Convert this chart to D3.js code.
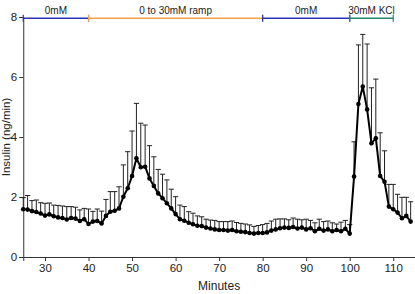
<!DOCTYPE html>
<html>
<head>
<meta charset="utf-8">
<script src="https://cdn.jsdelivr.net/npm/d3@7"></script>
<style>
	body { margin: 0; background: #fff; }
	svg text { font-family: "Liberation Sans", Arial, sans-serif; fill: #222; }
</style>
</head>
<body>
<div id="chart-area"></div>
<script>

// minutes sampled
let minutes = [25,26,27,28,29,30,31,32,33,34,35,36,37,38,39,40,41,42,43,44,
	45,46,47,48,49,50,51,52,53,54,55,56,57,58,59,60,61,62,63,64,
	65,66,67,68,69,70,71,72,73,74,75,76,77,78,79,80,81,82,83,84,
	85,86,87,88,89,90,91,92,93,94,95,96,97,98,99,100,101,102,103,104,
	105,106,107,108,109,110,111,112,113,114];

// insulin mean (ng/min)
let insulin = [1.59,1.58,1.53,1.50,1.45,1.38,1.42,1.36,1.32,1.30,1.25,1.30,1.28,1.20,1.26,1.10,1.18,1.20,1.12,1.37,
	1.51,1.54,1.62,2.01,2.29,2.70,3.29,2.99,3.01,2.62,2.37,2.12,1.96,1.79,1.62,1.43,1.26,1.21,1.14,1.09,
	1.04,1.03,0.98,0.95,0.92,0.90,0.90,0.88,0.90,0.86,0.84,0.83,0.80,0.78,0.80,0.80,0.82,0.88,0.92,0.96,
	0.98,0.97,1.00,0.95,0.98,0.92,0.96,0.86,0.94,0.88,0.92,0.86,0.90,0.86,0.94,0.78,2.68,5.10,5.68,4.92,
	3.79,3.96,2.70,2.51,1.68,1.59,1.48,1.29,1.37,1.18];

// SEM
let sem = [.39,.47,.35,.40,.36,.41,.38,.37,.40,.40,.43,.38,.38,.37,.36,.50,.34,.40,.41,.55,
	.67,.64,.72,1.06,1.22,1.50,1.83,1.47,1.39,1.09,.97,.80,.80,.78,.64,.58,.47,.47,.37,.37,
	.33,.31,.28,.28,.30,.28,.28,.30,.30,.29,.28,.27,.27,.24,.25,.28,.30,.32,.34,.31,
	.29,.27,.30,.31,.26,.34,.26,.28,.32,.30,.28,.28,.20,.30,.28,.30,1.16,1.97,1.74,2.18,
	1.85,1.97,1.44,1.03,.74,.83,.61,.70,.62,.66];

// condition bars along the top
let phaseLabels = ["0mM", "0 to 30mM ramp", "0mM", "30mM KCl"];
let phaseStart = [25, 40, 80, 100];
let phaseEnd = [40, 80, 100, 110];
let phaseColors = ["#2a33b8", "#f0a447", "#2a33b8", "#23896a"];

let xTicks = [30, 40, 50, 60, 70, 80, 90, 100, 110];
let yTicks = [0, 2, 4, 6, 8];

let data = minutes.map((m, i) => ({minute: m, value: insulin[i], err: sem[i]}));

drawChart(data);

function drawChart(data){

	let margin = {top: 17, right: 0, bottom: 37, left: 23.25};

	let width = 415 - margin.left - margin.right,
		height = 294 - margin.top - margin.bottom;

	let svg = d3.select("#chart-area").append("svg")
		.attr("width", 415)
		.attr("height", 294)
		.append("g")
		.attr("transform", "translate(" + margin.left + "," + margin.top + ")");

	// scales
	let x = d3.scaleLinear()
		.domain([25, 115])
		.range([0, width]);

	let y = d3.scaleLinear()
		.domain([0, 8])
		.range([height, 0]);

	// axes
	let xAxis = d3.axisBottom(x).tickValues(xTicks).tickSize(4).tickPadding(3);
	let yAxis = d3.axisLeft(y).tickValues(yTicks).tickSize(4).tickPadding(2);

	let xg = svg.append("g")
		.attr("class", "x-axis")
		.attr("transform", `translate(0, ${height})`)
		.call(xAxis);

	let yg = svg.append("g")
		.attr("class", "y-axis")
		.call(yAxis);

	[xg, yg].forEach(g => {
		g.select(".domain").attr("stroke", "#333").attr("stroke-width", 1);
		g.selectAll(".tick line").attr("stroke", "#333");
		g.selectAll(".tick text").style("font-size", "11.5px").attr("fill", "#222");
	});

	// axis titles
	svg.append("text")
		.attr("x", width / 2)
		.attr("y", height + 33)
		.attr("text-anchor", "middle")
		.style("font-size", "12px")
		.text("Minutes");

	svg.append("text")
		.attr("transform", `translate(${-13}, ${height / 2}) rotate(-90)`)
		.attr("text-anchor", "middle")
		.style("font-size", "11.5px")
		.text("Insulin (ng/min)");

	// phase bars
	let phases = phaseLabels.map((l, i) => ({label: l, s: phaseStart[i], e: phaseEnd[i], c: phaseColors[i]}));
	let barY = 1.3;

	let ph = svg.selectAll(".phase").data(phases).enter().append("g").attr("class", "phase");

	ph.append("line")
		.attr("x1", d => x(d.s)).attr("x2", d => x(d.e))
		.attr("y1", barY).attr("y2", barY)
		.attr("stroke", d => d.c).attr("stroke-width", 1.6);

	ph.append("line")
		.attr("x1", d => x(d.s)).attr("x2", d => x(d.s))
		.attr("y1", barY - 3.5).attr("y2", barY + 3.5)
		.attr("stroke", d => d.c).attr("stroke-width", 1.2);

	ph.append("line")
		.attr("x1", d => x(d.e)).attr("x2", d => x(d.e))
		.attr("y1", barY - 3.5).attr("y2", barY + 3.5)
		.attr("stroke", d => d.c).attr("stroke-width", 1.2);

	ph.append("text")
		.attr("x", d => (x(d.s) + x(d.e)) / 2)
		.attr("y", -3)
		.attr("text-anchor", "middle")
		.style("font-size", "10px")
		.text(d => d.label);

	// error bars (upper only)
	let capW = 2.6;
	let eb = svg.selectAll(".err").data(data).enter().append("g").attr("class", "err");

	eb.append("line")
		.attr("x1", d => x(d.minute)).attr("x2", d => x(d.minute))
		.attr("y1", d => y(d.value)).attr("y2", d => y(d.value + d.err))
		.attr("stroke", "#222").attr("stroke-width", 1);

	eb.append("line")
		.attr("x1", d => x(d.minute) - capW).attr("x2", d => x(d.minute) + capW)
		.attr("y1", d => y(d.value + d.err)).attr("y2", d => y(d.value + d.err))
		.attr("stroke", "#222").attr("stroke-width", 1);

	// mean line
	let line = d3.line()
		.x(d => x(d.minute))
		.y(d => y(d.value));

	svg.append("path")
		.datum(data)
		.attr("d", line)
		.attr("fill", "none")
		.attr("stroke", "#000")
		.attr("stroke-width", 2);

	svg.selectAll(".dot").data(data).enter().append("circle")
		.attr("class", "dot")
		.attr("cx", d => x(d.minute))
		.attr("cy", d => y(d.value))
		.attr("r", 2.3)
		.attr("fill", "#000");
}

</script>
</body>
</html>
